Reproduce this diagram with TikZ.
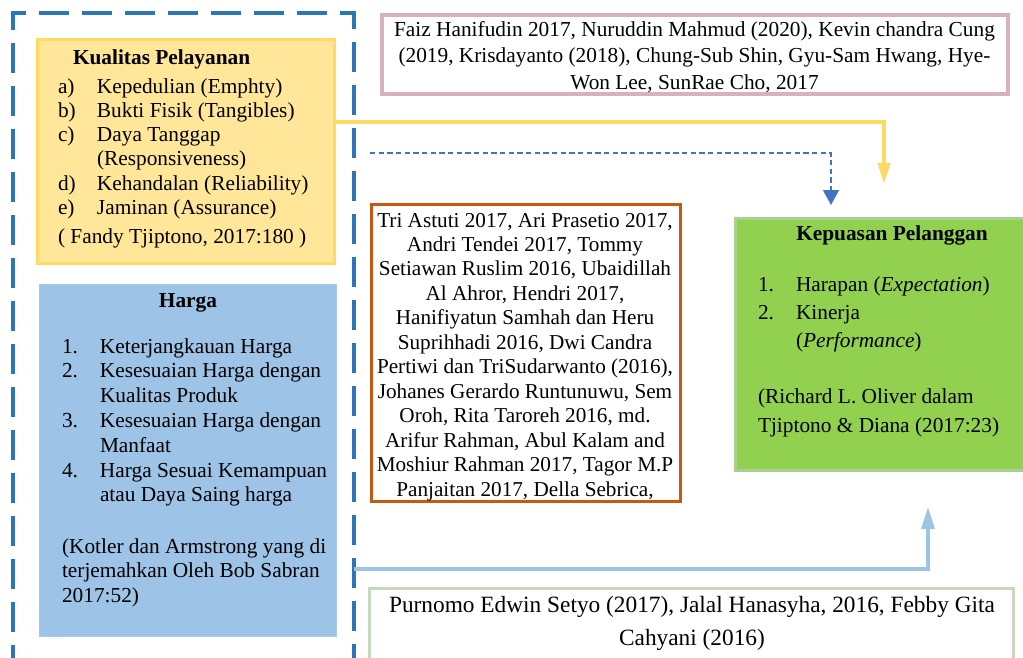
\documentclass[tikz,border=0pt]{standalone}
\usepackage{fontspec}
\setmainfont{Liberation Serif}
\usetikzlibrary{arrows.meta,fit}
\definecolor{grpblue}{HTML}{2E75B6}
\definecolor{kfill}{HTML}{FFE699}
\definecolor{kborder}{HTML}{FFD966}
\definecolor{hfill}{HTML}{9DC3E6}
\definecolor{hborder}{HTML}{A8CAEA}
\definecolor{pinkb}{HTML}{D8B0BF}
\definecolor{orangeb}{HTML}{C55A11}
\definecolor{gfill}{HTML}{92D050}
\definecolor{gborder}{HTML}{A9D18E}
\definecolor{sageb}{HTML}{C8D8BE}
\definecolor{arrblue}{HTML}{4472C4}
\definecolor{arrlight}{HTML}{9DC3E6}
\begin{document}
\begin{tikzpicture}[x=0.75pt,y=-0.75pt,
  box/.style={inner sep=0pt, outer sep=0pt},
  txt/.style={inner sep=0pt, outer sep=0pt, font=\fontsize{16}{18.2}\selectfont},
  yarrow/.style={draw=kborder, line width=3pt, -{Triangle[length=15.75pt,width=9pt]}},
  barrow/.style={draw=arrblue, line width=1.1pt, dash pattern=on 4pt off 2.5pt, -{Triangle[length=11.25pt,width=12pt]}},
  larrow/.style={draw=arrlight, line width=2.6pt, -{Triangle[length=16.5pt,width=9.75pt]}}]
\useasboundingbox (0,0) rectangle (1023,657);
\clip (0,0) rectangle (1023,657);
% dashed group
\node[box, fit={(13,13) (354,720)}, draw=grpblue, line width=3pt, dash pattern=on 22.5pt off 9.75pt] (grp) {};
% Kualitas Pelayanan
\node[box, fit={(37.5,39.5) (334.5,263.5)}, draw=kborder, fill=kfill, line width=2.25pt] (kq) {};
\node[txt, anchor=base west] (kqt) at (73,64) {\bfseries Kualitas Pelayanan};
\node[txt, anchor=base west] (kql) at (58,93) {\begin{tabular}[t]{@{}p{29.25pt}@{}l@{}}
a) & Kepedulian (Emphty)\\
b) & Bukti Fisik (Tangibles)\\
c) & Daya Tanggap\\
   & (Responsiveness)\\
d) & Kehandalan (Reliability)\\
e) & Jaminan (Assurance)
\end{tabular}};
\node[txt, anchor=base west] (kqc) at (58,243) {( Fandy Tjiptono, 2017:180 )};
% Harga
\node[box, fit={(39,284) (336,636)}, draw=hborder, fill=hfill, line width=0.75pt] (hg) {};
\node[txt, anchor=base] (hgt) at (188,307) {\bfseries Harga};
\node[txt, anchor=base west, font=\fontsize{16}{18.6}\selectfont] (hgl) at (62,353) {\begin{tabular}[t]{@{}p{28.5pt}@{}l@{}}
1. & Keterjangkauan Harga\\
2. & Kesesuaian Harga dengan\\
   & Kualitas Produk\\
3. & Kesesuaian Harga dengan\\
   & Manfaat\\
4. & Harga Sesuai Kemampuan\\
   & atau Daya Saing harga
\end{tabular}};
\node[txt, anchor=base west, font=\fontsize{16}{18.6}\selectfont] (hgc) at (62,553) {\begin{tabular}[t]{@{}l@{}}
(Kotler dan Armstrong yang di\\
terjemahkan Oleh Bob Sabran\\
2017:52)
\end{tabular}};
% pink reference box
\node[box, fit={(382,15) (1008,94)}, draw=pinkb, line width=3pt] (pk) {};
\node[txt, anchor=base, font=\fontsize{16}{19.8}\selectfont] (pkt) at (694.5,36.3) {\begin{tabular}[t]{@{}c@{}}
Faiz Hanifudin 2017, Nuruddin Mahmud (2020), Kevin chandra Cung\\
(2019, Krisdayanto (2018), Chung-Sub Shin, Gyu-Sam Hwang, Hye-\\
Won Lee, SunRae Cho, 2017
\end{tabular}};
% orange reference box
\node[box, fit={(371.5,204.5) (680.5,501.5)}, draw=orangeb, line width=2.25pt] (or) {};
\node[txt, anchor=base, font=\fontsize{15.9}{18.35}\selectfont] (ort) at (525,227) {\begin{tabular}[t]{@{}c@{}}
Tri Astuti 2017, Ari Prasetio 2017,\\
Andri Tendei 2017, Tommy\\
Setiawan Ruslim 2016, Ubaidillah\\
Al Ahror, Hendri 2017,\\
Hanifiyatun Samhah dan Heru\\
Suprihhadi 2016, Dwi Candra\\
Pertiwi dan TriSudarwanto (2016),\\
Johanes Gerardo Runtunuwu, Sem\\
Oroh, Rita Taroreh 2016, md.\\
Arifur Rahman, Abul Kalam and\\
Moshiur Rahman 2017, Tagor M.P\\
Panjaitan 2017, Della Sebrica,
\end{tabular}};
% Kepuasan Pelanggan
\node[box, fit={(735.5,218.5) (1040,470.5)}, draw=gborder, fill=gfill, line width=2.25pt] (kp) {};
\node[txt, anchor=base] (kpt) at (892,240) {\bfseries Kepuasan Pelanggan};
\node[txt, anchor=base west, font=\fontsize{16}{21.2}\selectfont] (kpl) at (758,291) {\begin{tabular}[t]{@{}p{28.5pt}@{}l@{}}
1. & Harapan (\textit{Expectation})\\
2. & Kinerja\\
   & (\textit{Performance})
\end{tabular}};
\node[txt, anchor=base west, font=\fontsize{16}{21.75}\selectfont] (kpc) at (758,403) {\begin{tabular}[t]{@{}l@{}}
(Richard L. Oliver dalam\\
Tjiptono \& Diana (2017:23)
\end{tabular}};
% bottom reference box
\node[box, fit={(369.5,588.5) (1013.5,720)}, draw=sageb, line width=2.25pt] (pb) {};
\node[txt, anchor=base, font=\fontsize{17.5}{24.75}\selectfont] (pbt) at (692,612) {\begin{tabular}[t]{@{}c@{}}
Purnomo Edwin Setyo (2017), Jalal Hanasyha, 2016, Febby Gita\\
Cahyani (2016)
\end{tabular}};
% connectors
\coordinate (yturn) at (884,122);
\coordinate (yend) at (884,184);
\draw[yarrow] (kq.east |- yturn) -- (yturn) -- (yend);
\coordinate (bstart) at (370,153);
\coordinate (bturn) at (831,153);
\coordinate (bend) at (831,205);
\draw[barrow] (bstart) -- (bturn) -- (bend);
\coordinate (lturn) at (928,569);
\coordinate (lend) at (928,507);
\draw[larrow] (grp.east |- lturn) -- (lturn) -- (lend);
\end{tikzpicture}
\end{document}
